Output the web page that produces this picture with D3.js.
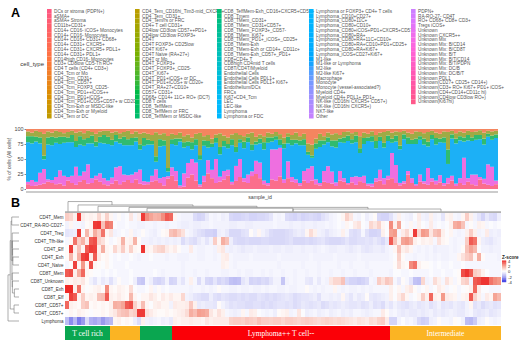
<!DOCTYPE html>
<html>
<head>
<meta charset="utf-8">
<script src="https://cdn.jsdelivr.net/npm/d3@7"></script>
<style>
  html, body { margin: 0; padding: 0; background: #fff; }
  text { font-family: "Liberation Sans", sans-serif; }
</style>
</head>
<body>
<div id="chart"></div>
<script>
const legendColumns = [
  ['DCs or stroma (PDPN+)', 'aSMA+', 'aSMA+ Stroma', 'CD11b+CD31+', 'CD14+ CD16- iCOS+ Monocytes', 'CD14+ CD16- Monocytes', 'CD14+ CD16+ CD31+ CD68+', 'CD14+ CD31+ CXCR5+', 'CD14+ CD31+ CXCR5+ PDL1+', 'CD14+ CD31+ PDL1+', 'CD14high CD16- Monocytes', 'CD3+ CD8low CD5-Th RO+', 'CD4 T cells (CD4+ CD3+)', 'CD4_Tcm or Mo', 'CD4_Tcm_CD31+', 'CD4_Tcm_CD57+', 'CD4_Tcm_FOXP3_CD25-', 'CD4_Tcm_PD1++iCOS++', 'CD4_Tcm_PD1+iCOS+', 'CD4_Tcm_PD1+iCOS+CD57+ w CD20+', 'CD4_Tcm-Exh or MSDC-like', 'CD4_Tcm-Exh or Myeloid', 'CD4_Tem or DC'],
  ['CD4_Tem_CD16hi_Tim3-mid_CXCR5+', 'CD4_Tem_CD31+', 'CD4_Tem/rs or FRC', 'CD4+ T cell CD31+', 'CD4low CD3low CD57++PD1+', 'CD4low CD3low FOXP3+', 'CD4T', 'CD4T FOXP3+ CD25low', 'CD4T Ki67+', 'CD4T Naive (RA+27+)', 'CD4T or Mo', 'CD4T_FOXP3+', 'CD4T_FOXP3+_CD25-', 'CD4T_Ki67+', 'CD4T_PD1+iCOS+ or DC', 'CD4T_PD1+iCOS+ w CD20+', 'CD4T_RA+27+CD10+', 'CD57+ CD31+', 'CD68+ CD14+ 11C+ RO+ (DC?)', 'CD8 T cells', 'CD8_TeffMem', 'CD8_TeffMem or FRC', 'CD8_TeffMem or MSDC-like'],
  ['CD8_TeffMem-Exh_CD16+CXCR5+CD57+', 'CD8_Tmem', 'CD8_TMem_CD31+', 'CD8_TMem_CD31+CD57+', 'CD8_TMem_FOXP3+_CD57-', 'CD8_TMem_Ki67+', 'CD8_TMem_PD1+_iCOS+_CD25+', 'CD8_TMem-Exh', 'CD8_TMem-Exh or CD14+_CD11c+', 'CD8_TMem-Exh_CD57+_PD1+', 'CD8+CD4+ T', 'CD8high CD4mid T cells', 'CD8T/CD4T/Myeloid', 'Endothelial Cells', 'Endothelial Cells PDL1+', 'Endothelial Cells PDL1+ Ki67+', 'Endothelium/DCs', 'FRCs', 'Ki67+CD4_Tcm', 'LEC', 'LEC-like', 'Lymphoma', 'Lymphoma or FDC'],
  ['Lymphoma or FOXP3+ CD4+ T cells', 'Lymphoma_CD10+CD27+', 'Lymphoma_CD80+11C+', 'Lymphoma_CD80+CD10+', 'Lymphoma_CD80+iCOS+PD1+CXCR5+CD57+', 'Lymphoma_CD80+RA+', 'Lymphoma_CD80+RA+11C+CD10+', 'Lymphoma_CD80+RA+CD10+PD1+CD25+', 'Lymphoma_CD80+RA+Ki67+', 'Lymphoma_iCOS+CD27+Ki67+', 'M1-like', 'M1-like or Lymphoma', 'M2-like', 'M2-like Ki67+', 'Macrophage', 'Monocyte', 'Monocyte (vessel-associated?)', 'Myeloid CD4+', 'Myeloid CD4+ PDL1+ PD1+', 'NK-like (CD16hi CXCR5+ CD57+)', 'NK-like (CD16hi CXCR5+)', 'NKT-like', 'Other'],
  ['PDPN+', 'RA-RO-27- CD4T', 'RO+ CD68+ CD8+ CD3+', 'Tregs iCOS+', 'Unknown', 'Unknown CXCR5++', 'Unknown Mix', 'Unknown Mix: B/CD14', 'Unknown Mix: B/CD8T', 'Unknown Mix: B/T', 'Unknown Mix: B/T/CD14', 'Unknown Mix: B/T/PDPN', 'Unknown Mix: DC/B', 'Unknown Mix: DC/B/T', 'Unknown PDL1', 'Unknown(CD27+ CD25+ CD14+)', 'Unknown(CD3+ RO+ Ki67+ PD1+ iCOS+', 'Unknown(CD4+CD14+CD11c hi)', 'Unknown(CD4low CD3low RO+)', 'Unknown(Ki67hi)']
];

// panel A, % of cells per sample, bottom band first
const coralShare = [
  8,5,6,7,9,12,10,8,9,6, 14,10,7,12,15,9,10,16,12,8, 6,9,14,8,12,15,10,16,9,7,
  8,12,16,10,6,18,22,14,3,4, 20,24,14,4,12,26,18,10,12,16, 22,8,14,20,12,10,22,25,18,8,
  6,16,14,22,10,18,12,10,6,14, 10,14,8,6,12,10,9,5,14,12, 8,11,7,13,10,6,4,12,14,8,
  16,18,10,6,9,24,10,5,12,9, 7,12,8,11,6,9,14,5,10,7, 12,8,6,16,9,7,5,8
];
const magentaShare = [
  4,10,6,20,24,4,5,12,22,16, 6,12,30,10,14,32,8,6,14,10, 8,10,22,30,12,8,14,12,24,6,
  4,10,20,8,14,4,14,16,3,22, 26,26,30,3,10,22,14,40,8,14, 10,4,26,30,6,14,8,22,26,6,
  4,50,52,50,6,28,8,6,4,16, 24,24,8,4,18,28,20,6,16,6, 2,9,14,7,12,3,5,6,18,10,
  6,42,30,4,4,6,8,3,12,4, 28,6,6,12,4,10,8,4,8,45, 6,16,18,4,8,34,32,6
];
const blueShare = [
  66,61,67,49,16,58,58,57,44,55, 58,56,33,52,43,35,58,49,51,58, 61,54,43,38,49,50,49,51,34,59,
  62,52,14,53,52,8,39,43,73,43, 30,16,29,38,50,21,38,27,36,41, 36,61,24,27,50,54,36,27,32,52,
  67,13,16,5,52,30,53,60,63,43, 23,14,51,60,44,40,42,58,48,59, 70,56,57,40,53,71,70,50,48,51,
  58,17,39,55,70,45,57,67,58,61, 36,65,60,55,67,24,62,67,63,27, 63,56,58,63,57,46,45,71
];
const greenShare = [
  10,12,8,10,6,12,14,9,12,10, 8,12,10,14,11,9,13,8,10,14, 12,9,11,8,14,10,12,7,9,13,
  8,6,10,12,9,6,8,11,5,9, 8,12,10,7,9,11,6,8,12,9, 7,10,9,6,11,8,10,5,8,12,
  9,7,6,10,8,11,9,6,8,10, 5,4,9,11,7,8,10,12,6,9, 9,7,11,8,10,6,9,12,7,8,
  9,7,10,6,8,11,7,9,6,10, 8,7,11,6,9,25,7,8,7,7, 9,6,8,7,10,5,7,6
];
const oliveShare = [
  8,6,10,9,36,10,7,11,8,6, 9,7,14,8,10,12,6,13,9,7, 10,12,6,9,8,14,7,10,18,9,
  10,10,44,8,12,55,9,6,10,10, 12,8,9,34,7,10,8,6,22,9, 11,8,24,7,9,6,20,8,7,10,
  8,6,7,9,10,6,8,12,7,9, 14,18,8,11,7,8,10,12,6,9, 7,10,6,20,9,6,8,10,7,18,
  8,10,7,22,6,8,10,12,7,9, 16,7,9,8,10,30,6,9,8,8, 7,9,6,8,10,5,7,6
];
const salmonShare = [
  4,6,3,5,8,4,6,3,5,7, 5,3,6,4,7,3,5,8,4,3, 3,6,4,7,5,3,8,4,8,6,
  8,10,6,9,7,12,8,10,6,12, 10,14,8,6,12,10,16,9,7,11, 14,9,7,10,12,8,6,13,9,12,
  6,8,5,9,14,7,10,6,12,8, 24,26,16,8,12,6,9,7,10,5, 4,7,5,12,6,8,4,10,6,5,
  3,6,4,5,3,6,8,4,5,7, 5,3,6,8,4,5,3,7,4,6, 3,5,4,2,6,3,4,3
];
const percentTicks = [0, 25, 50, 75, 100];

// panel B
const rowLabels = ['CD4T_Mem', 'CD4T_RA-RO-CD27-', 'CD4T_Treg', 'CD4T_Tfh-like', 'CD4T_Eff', 'CD4T_Exh', 'CD4T_Naive', 'CD8T_Mem', 'CD8T_Unknown', 'CD8T_Exh', 'CD8T_Eff', 'CD8T_CD57+', 'CD4T_CD57+', 'Lymphoma'];
const zMem = [
  1,.8,.3,3.5,.4,.2,.3,.2,.8,.2, .9,.2,-.2,.1,-.2,-.1,.5,-.2,.3,3.5,
  2.2,1.8,1.5,1.6,2.2,3,2.8,.2,-.2,-.3, -.3,-.3,-.8,-1,-.9,-.5,-.2,-.3,-.2,-.4,
  -.3,-.9,-1,-1,-.9,-.8,-1,-1,-.9,-.9, -.8,-.6,-.2,-.3,-.2,-.8,-.9,-1,-.8,-1,
  -.9,-.8,-.9,-1,-.7,-.5,-.3,-.2,-.1,.2, .9,.5,-.2,-.3,-.1,-.4,-.2,.1,-.9,-1,
  -1,-.7,-.3,.3,-.2,-.3,-.4,-.1,.4,-.3, -.4,.3,-.3,-.2,-.6,.2,.3,-.2,-.3,.2,
  1,.3,-.3,-.6,-1,-.5,-.8,-.9,-.4
];
const zRaRo = [
  -.3,.2,-.2,-.2,-.3,.1,.2,3.5,3.6,1.2, 2.6,2.4,-.1,-.2,-.2,-.1,-.2,-.2,-.3,-.3,
  -.2,-.2,-.3,-.2,-.2,-.3,-.2,-.2,-.3,-.4, -.4,-.3,-.4,-.4,-.3,-.3,-.2,-.3,-.3,-.3,
  -.3,-.4,-.4,-.3,-.3,-.4,-.4,-.3,-.3,-.3, -.3,-.3,-.2,-.3,-.3,-.3,-.4,-.3,-.3,-.4,
  -.3,-.3,-.4,-.3,-.3,-.2,-.3,-.2,-.1,-.2, .2,-.1,.4,.6,-.1,-.2,.8,.5,.9,.2,
  -.1,2.2,.3,1.8,-.1,-.2,.2,-.2,.3,-.1, -.2,.4,-.2,-.1,-.2,-.1,.3,1.6,1.8,1.2,
  -.2,.1,-.2,.3,.2,-.2,-.1,-.2,-.1
];
const zTreg = [
  -.6,-.5,-.4,3.5,-.1,1.4,.3,1.6,1,2.6, .2,.5,-.3,-.2,-.1,-.2,.2,-.3,-.2,.1,
  -.2,-.3,-.4,-.2,.1,.2,1.2,1.4,1,.6, -.2,-.3,-.5,-.7,-.8,-1,-1,-1.1,-.4,-.3,
  -.5,-.9,-.9,-.9,-.7,-.6,.1,-.3,.2,-.3, -.5,-.8,-.9,-.9,-.9,-.8,-.7,-.5,-.4,-.5,
  .2,.7,.3,-.3,-.4,-.6,-.4,-.3,-.2,.3, -.2,-.7,-.8,-.7,-.2,-.7,-1,-1,-.9,.3,
  -.1,1.8,2,-.2,.4,.8,.2,3.5,.8,2, 1.8,.5,1.2,1.4,.3,-.1,.2,-.2,-.3,-.2,
  .3,1,.3,-.3,-.2,.4,-.4,-.3,-.4
];
const zTfh = [
  -.2,.2,2.6,1,1.5,.4,3,3.2,.9,.6, .1,-.2,-.1,.2,1.5,.2,.3,1.5,.1,-.3,
  -.3,-.4,-.3,-.4,-.3,-.4,-.3,-.4,-.3,-.8, -.5,-.7,-.8,-.5,-.3,-.6,-.3,1,.2,1.6,
  1.2,-.4,-.8,-.9,-.9,-.8,-.9,-.9,-.9,-.8, -.8,-.9,-.9,-.9,-.9,-.8,-.7,-.9,-.9,-.9,
  -.8,-.9,-.8,-.7,-.6,-.8,-.9,-.9,-.9,-.8, -.6,-.8,-.8,-.7,-.7,-.6,-.7,-.5,-.7,-.9,
  -.5,3,1.2,.3,1.8,2,1.6,.3,.1,.3, .2,.3,-.2,.6,.2,.1,-.2,-.3,-.2,-.2,
  1,3,2.6,.2,-.4,-.5,-.6,-.4,-.3
];
const zCd4Eff = [
  .1,3.5,.3,1.2,.2,3,3.5,3.4,.3,1.6, .2,.1,.8,.3,1,.2,.9,.2,.1,3.6,
  .3,.2,.6,.8,.9,.4,.2,.4,.1,-.2, -.2,.4,-.2,-.3,-.3,-.2,-.2,-.3,.3,.5,
  -.3,-.4,-.3,-.4,-.5,-.4,-.4,-.3,-.4,-.4, -.4,-.3,-.4,-.4,-.3,-.4,-.4,-.3,-.3,-.4,
  -.3,-.3,-.4,-.3,-.2,-.3,-.4,-.4,-.3,-.3, -.4,-.5,-.4,-.3,-.5,-.6,-.5,-.4,-.4,-.5,
  -.3,-.2,.2,1.2,.3,.5,.2,-.2,-.3,-.2, -.3,-.2,-.4,-.3,-.3,-.3,-.2,-.3,-.2,.1,
  1.2,1.8,1.4,-.1,-.3,-.3,-.4,-.3,-.3
];
const zCd4Exh = [
  .1,1.4,.2,1.6,3.4,3.6,.4,3,.4,.1, .2,-.1,-.2,-.1,-.2,-.2,-.1,-.2,-.3,-.2,
  -.2,-.1,-.2,-.2,-.2,-.3,-.2,-.2,-.3,-.3, -.3,-.2,-.2,-.3,-.3,-.2,-.2,-.3,-.2,.3,
  .4,-.2,-.3,-.3,-.3,-.3,-.2,-.3,-.3,-.3, -.3,-.3,-.3,-.2,-.3,-.3,-.3,-.3,-.3,-.3,
  -.3,-.2,-.3,-.3,-.3,-.3,-.3,-.2,-.3,-.3, -.3,-.3,-.3,-.2,-.3,-.3,-.3,-.3,-.3,-.3,
  -.3,-.2,-.1,.9,.1,-.2,-.2,-.3,-.2,-.2, -.3,-.2,-.3,-.2,-.3,-.3,-.2,-.2,.2,.6,
  1,1.2,.2,1.6,.1,-.2,-.2,-.2,-.3
];
const zNaive = [
  -.2,.1,3.4,.2,2,.2,3.2,.2,.1,-.1, .2,-.1,-.2,-.2,-.2,-.1,-.2,-.2,-.2,-.2,
  -.2,-.2,-.2,-.2,-.2,-.2,-.2,-.2,-.2,-.3, -.2,-.2,-.2,-.2,-.2,-.2,-.2,-.2,-.2,.3,
  .2,-.2,-.3,-.2,-.2,-.2,-.2,-.2,-.2,-.2, -.2,-.2,-.2,-.3,-.2,-.2,-.2,-.2,-.2,-.3,
  -.2,-.2,-.2,-.3,-.2,-.2,-.2,-.2,-.3,-.2, -.2,-.3,-.2,-.2,-.2,-.3,-.2,-.2,-.2,-.2,
  -.2,-.2,.1,.7,.2,.1,2.2,2.6,.3,.1, .1,-.1,-.2,-.1,-.2,-.2,-.1,-.2,-.2,-.1,
  -.2,-.2,-.2,-.2,-.2,-.2,-.2,-.2,-.2
];
const zCd8Mem = [
  3,3.2,.3,1.6,2.8,.2,.1,-.1,-.1,-.2, -.1,-.2,-.1,-.2,-.2,-.2,-.1,-.2,-.2,-.2,
  -.2,-.2,-.1,-.2,-.3,-.2,-.2,-.2,-.2,-.3, -.2,-.2,-.3,-.2,-.2,-.3,-.2,-.2,-.2,-.3,
  -.3,-.2,-.2,-.3,-.2,-.3,-.3,-.2,-.2,-.3, -.2,-.3,-.2,-.2,-.3,-.2,-.2,-.3,-.2,-.2,
  -.3,-.2,-.2,-.3,-.2,-.2,-.3,-.2,-.2,-.3, -.2,-.2,-.3,-.2,-.2,-.2,-.3,-.2,-.2,-.2,
  -.2,-.3,-.1,-.1,-.2,-.2,-.1,-.2,-.2,-.2, -.2,-.1,-.2,-.2,-.1,-.2,-.2,-.1,.1,3.2,
  3.6,3,1,.8,.3,-.1,-.2,-.2,-.2
];
const zCd8Unknown = [
  .3,.2,.4,.3,.5,.1,-.3,-.6,-.2,-.5, -.3,-.7,-.3,.1,-.2,-.2,-.1,-.4,-1.2,-1.3,
  -.2,-.4,-.9,-1,-.8,-.3,-1,-.9,-.3,-.6, -.2,.3,-.2,-.8,-.3,-.9,-1,-.6,-1,-.8,
  -1,-1.4,-1.5,-1.4,-.6,-.4,-1,-.9,-1,-.8, -.9,-.6,-.3,-.3,-1.3,-.3,-.2,-.3,-.2,-.2,
  -.5,-.6,-.2,-.5,-.2,-.3,.5,.8,.8,1.2, -.8,-1,-1,-1.1,-1,-.8,-.2,-.3,1,.6,
  1.1,.9,-.2,-.5,.1,-.2,-.6,-1.4,-1.5,.8, -.3,-.2,.7,.3,-.2,.6,.2,-.2,.1,.8,
  1,-.3,3,3.2,3.6,3.6,2.6,2.2,2
];
const zCd8Exh = [
  3.8,3.8,.3,2.6,.2,-.1,.1,.2,.3,.1, 2.2,.2,.1,.3,.2,.1,.7,-.1,-.2,-.2,
  -.1,.2,-.2,.1,-.2,-.1,-.2,-.2,-.2,-.2, -.2,-.3,-.2,-.2,-.3,-.2,-.3,-.2,.1,-.2,
  -.2,-.3,-.3,-.2,-.3,-.3,-.2,-.3,-.3,-.2, -.3,-.2,-.2,-.3,-.3,-.2,-.3,-.3,-.2,-.2,
  .1,-.2,-.3,-.2,-.3,-.2,-.2,.2,-.2,-.3, -.2,-.3,-.3,-.2,-.3,-.2,-.3,-.2,-.2,-.2,
  -.2,.3,-.1,.2,-.2,.3,.5,.1,-.2,-.1, .2,-.2,-.1,.4,.2,-.2,-.1,.1,-.2,-.1,
  .1,.3,2.8,.4,-.1,-.1,-.2,-.2,-.2
];
const zCd8Eff = [
  .2,3.4,3,.2,1,.2,.3,.2,1.2,1.3, 3,.3,.2,.4,.2,.1,1.4,.2,-.1,.2,
  .2,.5,.3,.1,.4,.2,.4,.2,.2,.8, -.3,-.4,-.6,-.7,-.8,-.8,-.4,-.7,-.8,-.6,
  -.7,-.8,-.8,-.7,-.8,-.7,-.8,-.8,-.6,-.7, -.8,-.7,-.8,-.7,-.6,-.5,-.6,-.8,-.7,-.6,
  -.6,-.5,-.4,-.7,-.3,-.3,-.4,-.3,-.4,.2, -.4,-.6,-.3,-.5,-.4,.1,-.5,-.6,-.5,-.4,
  -.3,.3,-.1,.4,.8,.2,-.2,-.1,.2,1, .3,2.8,.3,.2,2,.4,.3,.2,-.2,.2,
  .3,3,.9,.3,-.2,.4,.2,1.8,1.4
];
const zCd8Cd57 = [
  2.8,.3,.2,.1,1,1.2,.1,.2,.1,.2, .1,.3,1.6,1.5,1.8,3,3.2,.9,.3,1.3,
  .2,-.1,.3,.4,.2,.2,-.3,.4,.3,.3, .4,1.1,.3,-.5,-.4,-.5,-.5,-.6,.1,-.3,
  -.5,-.7,-.6,-.7,-.7,-.8,-.8,-.7,-.7,-.8, -.7,-.8,-.7,-.6,-.6,-.7,-.6,-.8,-.7,-.5,
  -.6,-.7,-.6,-.5,-.8,-.7,-.5,-.6,-.5,-.4, -.5,-.6,-.6,-.5,-.7,-.6,-.4,-.7,-.6,-.8,
  -.4,-.6,-.3,-.5,-.6,-.7,-.5,-.4,-.6,-.5, -.4,-.7,-.5,-.3,-.6,-.5,-.6,-.4,-.5,-.6,
  -.3,.2,-.7,-.5,-.8,-.6,-.5,-.7,-.6
];
const zCd4Cd57 = [
  -.1,.2,.1,.3,.2,.1,-.1,.1,.1,.2, .1,.3,.5,1,1.2,1.3,.8,1,3.5,3.5,
  .6,.4,.2,.1,.1,.2,.1,.2,.3,.4, .7,1.6,1.3,1.9,1.8,1.6,.5,.2,.6,.3,
  -.2,-.3,-.4,-.3,.2,-.2,.4,.3,-.1,-.2, -.3,-.2,-.4,.1,.2,.3,-.3,-.2,.5,-.1,
  -.4,-.3,-.2,-.4,-.3,-.2,-.4,-.3,-.2,-.4, -.3,-.4,-.2,-.2,-.3,-.4,-.3,-.2,-.2,.4,
  .1,-.3,-.2,-.4,-.5,-.4,-.5,-.5,-.4,-.5, -.4,-.3,-.5,-.4,-.5,-.4,-.3,-.4,-.5,-.5,
  -.3,-.2,-.5,-.6,-.5,-.4,-.6,-.5,-.4
];
const zLymphoma = [
  -1.5,-2.4,-1.6,-2.6,-2.2,-.8,-1.8,-2,-1.7,-2.2, -1.8,-1.6,.2,.3,.1,.2,.1,-.4,-.8,.3,
  -.3,-.4,-.3,-.2,-.4,-.3,-.5,.3,.2,.3, .3,.4,.3,.3,.2,.5,.3,.4,.4,.4,
  .4,.9,1,1,.9,1.1,1,.9,1.2,1, 1,.9,1,1,.8,1,1,.9,.8,.9,
  1,.9,.8,.7,.8,.9,.8,.7,.8,.7, .6,.5,.4,.6,.5,.4,.7,.6,.9,1,
  .4,-1,-1,-.3,-.1,-.3,-.2,-.4,-.9,-1.1, -1,-.4,-.3,.1,-.2,-.2,-.3,.1,-.1,-.3,
  -1.5,-1.6,-1.2,-.4,-.3,.1,-.2,-.3,-.2
];
const heatRows = [zMem, zRaRo, zTreg, zTfh, zCd4Eff, zCd4Exh, zNaive, zCd8Mem, zCd8Unknown, zCd8Exh, zCd8Eff, zCd8Cd57, zCd4Cd57, zLymphoma];

const groupNames = ['T cell rich', '', '', 'Lymphoma++ T cell--', 'Intermediate'];
const groupColumns = [11.25, 7.5, 8, 54.5, 27.75];
const groupColors = ['#0aa650', '#fbb423', '#0aa650', '#fb0007', '#fbb423'];

// [height, child, child]; a plain number is a row index
const rowTree = [1, [.8, [.72, [.66, 0, 1], [.64, [.62, 2, [.6, 3, [.58, 4, [.56, 5, 6]]]], [.62, 7, [.6, 8, [.42, 9, 10]]]]], [.45, 11, 12]], 13];
// [left column, right column, height, left foot, right foot]
const columnMerges = [
  [.75, 11.75, .95, 0, .64],
  [3.25, 32, .64, 0, .52],
  [8.25, 48, .52, 0, .42],
  [16, 75.75, .42, 0, .27],
  [20.5, 57, .34, 0, 0],
  [57, 94, .27, 0, 0]
];
const zTicks = [4, 2, 0, -2, -4];

const WIDTH = 520;
const HEIGHT = 345;
const STACK = { left: 26, right: 498, top: 129, bottom: 189 };
const HEAT = { left: 65, right: 501, top: 213, bottom: 325 };
const LEGEND_ROW = 4.76;
const LEGEND_TOP = 9;
const legendX = [47, 135, 217, 309, 411];

const svg = d3.select('#chart').append('svg')
  .attr('width', WIDTH)
  .attr('height', HEIGHT)
  .style('display', 'block');

svg.append('text').attr('x', 11).attr('y', 17).attr('font-size', 12.5).attr('font-weight', 'bold').text('A');
svg.append('text').attr('x', 11).attr('y', 207).attr('font-size', 12.5).attr('font-weight', 'bold').text('B');

/* legend of panel A */
const allTypes = legendColumns.flat();
const hue = i => d3.hcl(15 + 360 * i / allTypes.length, 75, 66).formatHex();

svg.append('text')
  .attr('x', 44).attr('y', 66)
  .attr('text-anchor', 'end')
  .attr('font-size', 6)
  .attr('fill', '#333')
  .text('cell_type');

let typeIndex = 0;
legendColumns.forEach((names, c) => {
  const y = d3.scaleBand().domain(d3.range(23)).range([LEGEND_TOP, LEGEND_TOP + 23 * LEGEND_ROW]);
  const column = svg.append('g');
  names.forEach((name, r) => {
    column.append('rect')
      .attr('x', legendX[c]).attr('y', y(r))
      .attr('width', 4.6).attr('height', y.bandwidth())
      .attr('fill', hue(typeIndex));
    column.append('text')
      .attr('x', legendX[c] + 7).attr('y', y(r) + 3.9)
      .attr('font-size', 4.7)
      .attr('fill', '#555')
      .text(name);
    typeIndex++;
  });
});

/* stacked bars of panel A */
const shareKeys = ['coral', 'magenta', 'blue', 'green', 'olive', 'salmon'];
const shareColors = ['#fb6e8c', '#ee6fe0', '#1cb0f6', '#30bb70', '#9fab45', '#f4855f'];
const shareArrays = [coralShare, magentaShare, blueShare, greenShare, oliveShare, salmonShare];
const samples = coralShare.map((_, i) => {
  const row = { id: i };
  shareKeys.forEach((k, s) => { row[k] = shareArrays[s][i]; });
  return row;
});

const stackX = d3.scaleBand().domain(samples.map(d => d.id)).range([STACK.left, STACK.right]);
const stackY = d3.scaleLinear().domain([0, 100]).range([STACK.bottom, STACK.top]);

const layers = d3.stack().keys(shareKeys).offset(d3.stackOffsetExpand)(samples);
svg.append('g')
  .selectAll('g')
  .data(layers)
  .join('g')
  .attr('fill', (d, i) => shareColors[i])
  .selectAll('rect')
  .data(d => d)
  .join('rect')
  .attr('x', d => stackX(d.data.id))
  .attr('y', d => stackY(d[1] * 100))
  .attr('width', stackX.bandwidth())
  .attr('height', d => stackY(d[0] * 100) - stackY(d[1] * 100));

const yAxis = svg.append('g')
  .attr('transform', `translate(${STACK.left}, 0)`)
  .call(d3.axisLeft(stackY).tickValues(percentTicks).tickSize(1.5).tickPadding(1));
yAxis.selectAll('text').attr('font-size', 5.4).attr('fill', '#444');
yAxis.selectAll('line').attr('stroke', '#888');
yAxis.select('.domain').remove();

svg.append('line')
  .attr('x1', STACK.left).attr('x2', STACK.right)
  .attr('y1', 192).attr('y2', 192)
  .attr('stroke', '#999').attr('stroke-width', 1);

svg.append('text')
  .attr('transform', `translate(11, 159) rotate(-90)`)
  .attr('text-anchor', 'middle')
  .attr('font-size', 5)
  .attr('fill', '#444')
  .text('% of cells (All cells)');
svg.append('text')
  .attr('x', 260).attr('y', 198.5)
  .attr('text-anchor', 'middle')
  .attr('font-size', 5.2)
  .attr('fill', '#444')
  .text('sample_id');

/* heatmap of panel B */
const nCols = zMem.length;
const heatX = d3.scaleLinear().domain([0, nCols]).range([HEAT.left, HEAT.right]);
const heatY = d3.scaleBand().domain(d3.range(rowLabels.length)).range([HEAT.top, HEAT.bottom]);
const heatColor = d3.scaleLinear()
  .domain([-4, -2, 0, 2, 4])
  .range(['#1a1ae0', '#a8a8f0', '#ffffff', '#f49a8a', '#ec1c1c'])
  .clamp(true);

heatRows.forEach((values, r) => {
  svg.append('g')
    .selectAll('rect')
    .data(values)
    .join('rect')
    .attr('x', (d, j) => heatX(j))
    .attr('y', heatY(r))
    .attr('width', heatX(1) - heatX(0))
    .attr('height', heatY.bandwidth())
    .attr('fill', d => heatColor(d));
});

svg.append('g')
  .selectAll('text')
  .data(rowLabels)
  .join('text')
  .attr('x', HEAT.left - 1.5)
  .attr('y', (d, r) => heatY(r) + heatY.bandwidth() / 2 + 1.7)
  .attr('text-anchor', 'end')
  .attr('font-size', 4.5)
  .attr('fill', '#333')
  .text(d => d);

/* group annotation */
let groupStart = 0;
const groupBar = svg.append('g');
groupColumns.forEach((size, g) => {
  const x0 = heatX(groupStart);
  const x1 = heatX(groupStart + size);
  groupBar.append('rect')
    .attr('x', x0).attr('y', 326)
    .attr('width', x1 - x0).attr('height', 14)
    .attr('fill', groupColors[g]);
  if (groupNames[g]) {
    groupBar.append('text')
      .attr('x', (x0 + x1) / 2).attr('y', 335.5)
      .attr('text-anchor', 'middle')
      .attr('font-size', 7.5)
      .attr('fill', '#fff')
      .style('font-family', '"Liberation Serif", serif')
      .text(groupNames[g]);
  }
  groupStart += size;
});

/* dendrograms */
const dendroColor = '#777';
const leftH = d3.scaleLinear().domain([0, 1]).range([19, 8]);
const leftDendro = svg.append('g').attr('fill', 'none').attr('stroke', dendroColor).attr('stroke-width', .6);

const drawLeft = node => {
  if (typeof node === 'number') {
    return { y: heatY(node) + heatY.bandwidth() / 2, h: 0 };
  }
  const [h, a, b] = node;
  const pa = drawLeft(a);
  const pb = drawLeft(b);
  const path = d3.path();
  path.moveTo(leftH(pa.h), pa.y);
  path.lineTo(leftH(h), pa.y);
  path.lineTo(leftH(h), pb.y);
  path.lineTo(leftH(pb.h), pb.y);
  leftDendro.append('path').attr('d', path.toString());
  return { y: (pa.y + pb.y) / 2, h: h };
};
drawLeft(rowTree);

const topH = d3.scaleLinear().domain([0, 1]).range([212, 201]);
const topDendro = svg.append('g').attr('fill', 'none').attr('stroke', dendroColor).attr('stroke-width', .6);
columnMerges.forEach(([a, b, h, footA, footB]) => {
  const path = d3.path();
  path.moveTo(heatX(a), topH(footA));
  path.lineTo(heatX(a), topH(h));
  path.lineTo(heatX(b), topH(h));
  path.lineTo(heatX(b), topH(footB));
  topDendro.append('path').attr('d', path.toString());
});
svg.append('rect')
  .attr('x', HEAT.left).attr('y', 211.3)
  .attr('width', HEAT.right - HEAT.left).attr('height', 1.6)
  .attr('fill', '#aaa');

/* z-score legend */
const zBar = d3.scaleLinear().domain([4, -4]).range([260.5, 282]);
const zLegend = svg.append('g');
zLegend.append('text')
  .attr('x', 502).attr('y', 258.5)
  .attr('font-size', 4.6)
  .attr('font-weight', 'bold')
  .attr('fill', '#222')
  .text('Z-score');
zLegend.append('g')
  .selectAll('rect')
  .data(d3.range(4, -4, -.25))
  .join('rect')
  .attr('x', 502)
  .attr('y', d => zBar(d))
  .attr('width', 4.2)
  .attr('height', zBar(0) - zBar(.25) + .2)
  .attr('fill', d => heatColor(d - .125));
zLegend.append('g')
  .selectAll('text')
  .data(zTicks)
  .join('text')
  .attr('x', 508)
  .attr('y', d => zBar(d) + 2)
  .attr('font-size', 4.2)
  .attr('fill', '#222')
  .text(d => d);
</script>
</body>
</html>
